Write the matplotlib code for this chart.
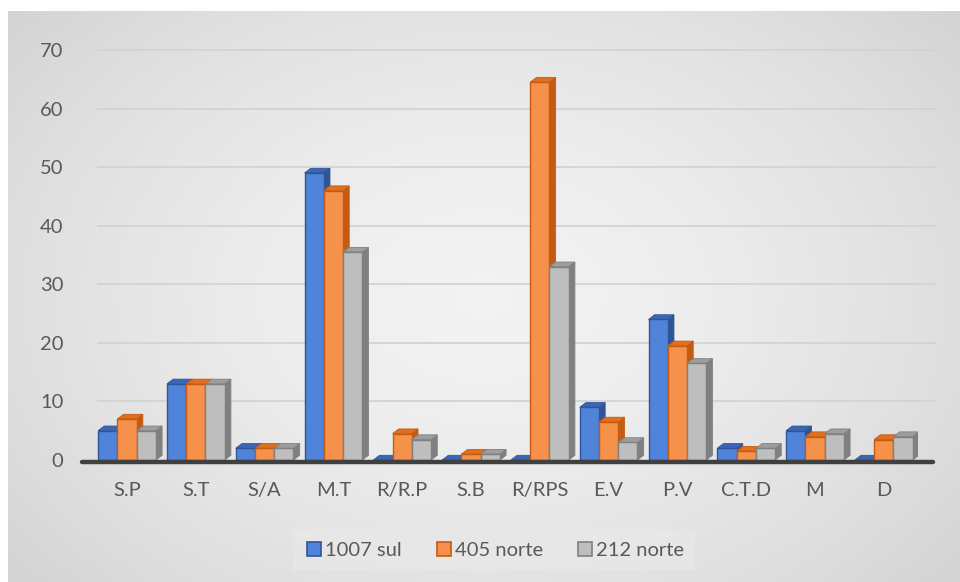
import numpy as np
import matplotlib
matplotlib.use('Agg')
import matplotlib.pyplot as plt
from matplotlib.patches import Polygon, Rectangle
from matplotlib.lines import Line2D

# Categories and counts per location
categories = ['S.P', 'S.T', 'S/A', 'M.T', 'R/R.P', 'S.B', 'R/RPS', 'E.V', 'P.V', 'C.T.D', 'M', 'D']
sul_1007 = [5, 13, 2, 49, 0, 0, 0, 9, 24, 2, 5, 0]
norte_405 = [7, 13, 2, 46, 4.5, 1, 64.5, 6.5, 19.5, 1.5, 4, 3.5]
norte_212 = [5, 13, 2, 35.5, 3.5, 1, 33, 3, 16.5, 2, 4.5, 4]
series_names = ['1007 sul', '405 norte', '212 norte']

# (front, side, top) colours per series
palette = [
    ('#5084DA', '#2F5597', '#3A66B8'),
    ('#F5914B', '#C55A11', '#E0701F'),
    ('#BEBEBE', '#808080', '#9E9E9E'),
]

plt.rcParams['font.family'] = ['Lato', 'DejaVu Sans']
text_color = '#595959'
fs = 14.5

fig = plt.figure(figsize=(9.6, 5.82), dpi=100)
fig.patch.set_facecolor('white')

# gradient backdrop of the chart area
bg = fig.add_axes([8 / 960, 0, 952 / 960, 571 / 582])
yy, xx = np.mgrid[0:1:200j, 0:1:300j]
r = np.sqrt(((xx - 0.5) / 0.75) ** 2 + ((yy - 0.5) / 0.9) ** 2)
shade = 0.95 - 0.15 * np.clip(r, 0, 1) ** 1.6
bg.imshow(np.dstack([shade] * 3), aspect='auto', extent=[0, 1, 0, 1], origin='lower')
bg.set_axis_off()

ax = fig.add_axes([92.6 / 960, 122 / 582, 825.6 / 960, 410 / 582])
ax.set_facecolor('none')
ax.set_xlim(-0.5, 11.5)
ax.set_ylim(0, 70)

# back-wall gridlines
for g in range(10, 80, 10):
    ax.plot([-0.42, 11.75], [g, g], color='#d3d3d3', lw=1.3, zorder=1, clip_on=False)

w = 0.28
dx, dy = 0.09, 0.8
x = np.arange(len(categories))
all_series = [sul_1007, norte_405, norte_212]

for i, (vals, (cf, cs, ct)) in enumerate(zip(all_series, palette)):
    for xi, v in zip(x, vals):
        x0 = xi + (i - 1) * w - w / 2
        # side face
        ax.add_patch(Polygon([(x0 + w, 0), (x0 + w + dx, dy), (x0 + w + dx, v + dy), (x0 + w, v)],
                             closed=True, facecolor=cs, edgecolor=cs, lw=0.6, zorder=3 + i))
        # top face
        ax.add_patch(Polygon([(x0, v), (x0 + dx, v + dy), (x0 + w + dx, v + dy), (x0 + w, v)],
                             closed=True, facecolor=ct, edgecolor=cs, lw=0.6, zorder=3 + i))
        # front face
        if v > 0:
            ax.add_patch(Rectangle((x0, 0), w, v, facecolor=cf, edgecolor=cs, lw=1.0, zorder=3 + i))

# floor edge
ax.plot([-0.65, 11.72], [-0.3, -0.3], color='#404040', lw=3.2, solid_capstyle='round',
        zorder=10, clip_on=False)

for s in ax.spines.values():
    s.set_visible(False)
ax.set_yticks(range(0, 80, 10))
ax.set_xticks(x)
ax.set_xticklabels(categories)
ax.tick_params(axis='y', length=0, pad=21, labelsize=fs, labelcolor=text_color)
ax.tick_params(axis='x', length=0, pad=16, labelsize=fs, labelcolor=text_color)

handles = [Line2D([], [], marker='s', ls='none', markersize=10, markerfacecolor=cf,
                  markeredgecolor=cs, markeredgewidth=1.2) for cf, cs, ct in palette]
leg = fig.legend(handles, series_names, loc='center', bbox_to_anchor=(494 / 960, 32 / 582),
                 ncol=3, frameon=True, fontsize=fs, handletextpad=0.05, columnspacing=1.6,
                 borderpad=0.55, handlelength=1.0)
leg.get_frame().set_facecolor('#e8e8e8')
leg.get_frame().set_edgecolor('none')
leg.get_frame().set_alpha(0.8)
leg.get_frame().set_boxstyle('square', pad=0)
for t in leg.get_texts():
    t.set_color(text_color)

fig.savefig('out.png', dpi=100)
